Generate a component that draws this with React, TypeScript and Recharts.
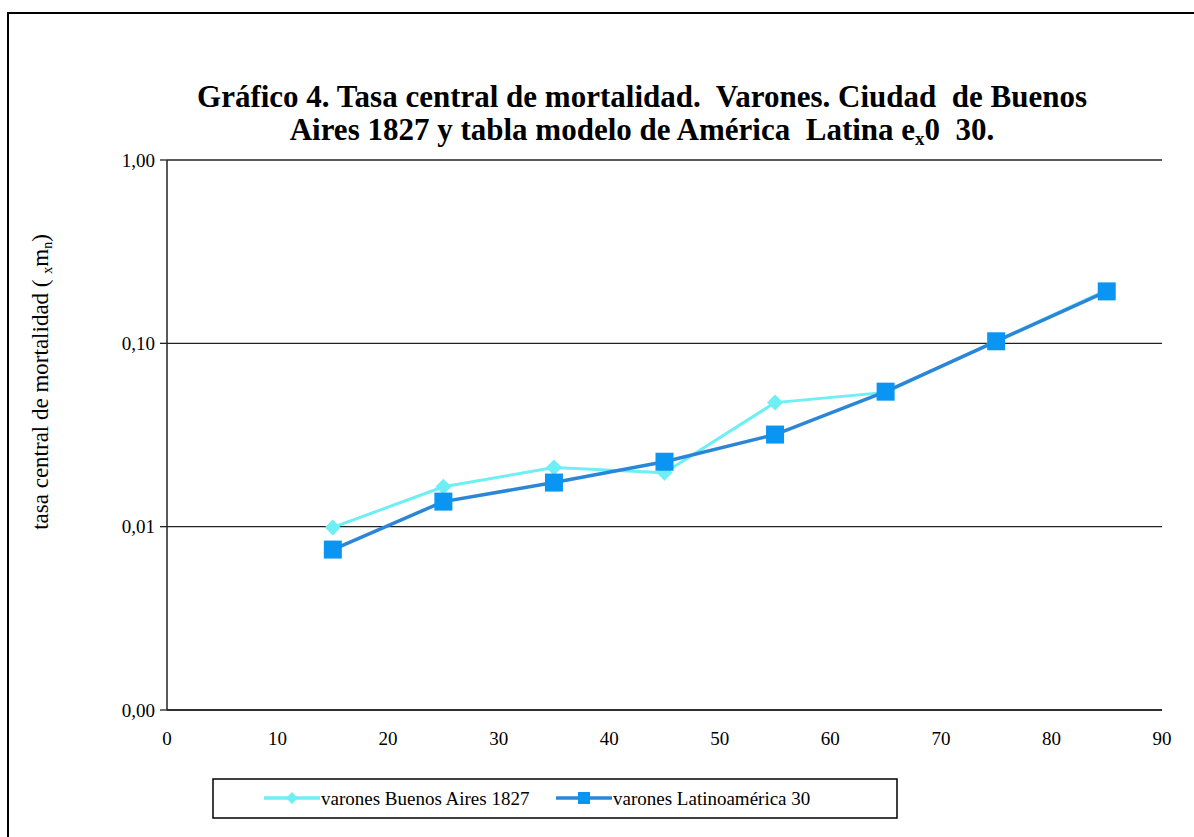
import { LineChart, Line, XAxis, YAxis, CartesianGrid } from "recharts";

const ages = [15, 25, 35, 45, 55, 65, 75, 85];
const buenosAires = [0.0099, 0.0165, 0.021, 0.0197, 0.0475, 0.054, 0.103, 0.195];
const latinoamerica = [0.0075, 0.0137, 0.0174, 0.0226, 0.0318, 0.0545, 0.1026, 0.192];
const xTicks = [0, 10, 20, 30, 40, 50, 60, 70, 80, 90];
const yTicks = [0.001, 0.01, 0.1, 1];
const seriesNames = ["varones Buenos Aires 1827", "varones Latinoamérica 30"];

const data = ages.map((age, i) => ({
  age,
  ba: buenosAires[i],
  la: latinoamerica[i],
}));

const SERIF = "Liberation Serif, Times New Roman, serif";
const BA_COLOR = "#6EEEF5";
const LA_LINE = "#2C86D8";
const LA_MARK = "#0B95F2";

const Diamond = (props: any) => {
  const { cx, cy } = props;
  if (cx == null || cy == null) return null;
  const r = 8;
  return (
    <polygon
      points={`${cx},${cy - r} ${cx + r},${cy} ${cx},${cy + r} ${cx - r},${cy}`}
      fill={BA_COLOR}
    />
  );
};

const Square = (props: any) => {
  const { cx, cy } = props;
  if (cx == null || cy == null) return null;
  const s = 9;
  return <rect x={cx - s} y={cy - s} width={s * 2} height={s * 2} fill={LA_MARK} />;
};

const fmt = (v: number) => v.toFixed(2).replace(".", ",");

// legend entries: where each sample line starts
const legendX = [264, 556];

export default function App() {
  return (
    <div
      style={{
        position: "absolute",
        left: 0,
        top: 0,
        width: 1194,
        height: 837,
        overflow: "hidden",
        background: "#fff",
      }}
    >
      <div style={{ position: "absolute", left: 0, top: 0 }}>
        <LineChart
          width={1194}
          height={837}
          data={data}
          margin={{ top: 160, right: 32, bottom: 97, left: 87 }}
        >
          <CartesianGrid vertical={false} stroke="#222" strokeWidth={1.3} />
          <XAxis
            dataKey="age"
            type="number"
            domain={[0, 90]}
            ticks={xTicks}
            height={30}
            tickLine={false}
            axisLine={{ stroke: "#222", strokeWidth: 1.5 }}
            tickMargin={16}
            tick={{ fill: "#000", fontSize: 19, fontFamily: SERIF }}
          />
          <YAxis
            scale="log"
            domain={[0.001, 1]}
            ticks={yTicks}
            allowDataOverflow
            width={80}
            tickFormatter={fmt}
            tickSize={7}
            tickMargin={5}
            tickLine={{ stroke: "#222", strokeWidth: 1.3 }}
            axisLine={{ stroke: "#222", strokeWidth: 1.5 }}
            tick={{ fill: "#000", fontSize: 19, fontFamily: SERIF }}
          />
          <Line
            dataKey="ba"
            stroke={BA_COLOR}
            strokeWidth={3}
            dot={<Diamond />}
            activeDot={false}
            isAnimationActive={false}
          />
          <Line
            dataKey="la"
            stroke={LA_LINE}
            strokeWidth={3.5}
            dot={<Square />}
            activeDot={false}
            isAnimationActive={false}
          />
        </LineChart>
      </div>

      {/* frame, titles and legend */}
      <svg
        width={1194}
        height={837}
        style={{ position: "absolute", left: 0, top: 0, pointerEvents: "none" }}
      >
        <rect x={8} y={13} width={1230} height={860} fill="none" stroke="#000" strokeWidth={2} />
        <text
          x={642}
          y={107}
          textAnchor="middle"
          fontFamily={SERIF}
          fontWeight="bold"
          fontSize={31}
          fill="#000"
          style={{ fontFamily: SERIF }}
        >
          Gráfico 4. Tasa central de mortalidad.{"\u00a0 "}Varones. Ciudad{"\u00a0 "}de Buenos
        </text>
        <text
          x={642}
          y={140}
          textAnchor="middle"
          fontFamily={SERIF}
          fontWeight="bold"
          fontSize={31}
          fill="#000"
          style={{ fontFamily: SERIF }}
        >
          Aires 1827 y tabla modelo de América{"\u00a0 "}Latina e
          <tspan fontSize={19} dy={5}>x</tspan>
          <tspan dy={-5}>0{"\u00a0 "}30.</tspan>
        </text>
        <text
          transform="translate(48,382) rotate(-90)"
          textAnchor="middle"
          fontFamily={SERIF}
          fontSize={23}
          fill="#000"
          style={{ fontFamily: SERIF }}
        >
          tasa central de mortalidad ({"\u00a0"}
          <tspan fontSize={14} dy={4}>x</tspan>
          <tspan dy={-4}>m</tspan>
          <tspan fontSize={14} dy={4}>n</tspan>
          <tspan dy={-4}>)</tspan>
        </text>

        <rect x={213} y={779} width={684} height={39} fill="#fff" stroke="#000" strokeWidth={1.5} />
        {seriesNames.map((name, i) => {
          const x0 = legendX[i];
          const cy = 798;
          return (
            <g key={name}>
              <line
                x1={x0}
                y1={cy}
                x2={x0 + 56}
                y2={cy}
                stroke={i === 0 ? BA_COLOR : LA_LINE}
                strokeWidth={3.5}
              />
              {i === 0 ? (
                <polygon
                  points={`${x0 + 28},${cy - 6} ${x0 + 34},${cy} ${x0 + 28},${cy + 6} ${x0 + 22},${cy}`}
                  fill={BA_COLOR}
                />
              ) : (
                <rect x={x0 + 22} y={cy - 6} width={12} height={12} fill={LA_MARK} />
              )}
              <text
                x={x0 + 57}
                y={cy + 7}
                fontFamily={SERIF}
                fontSize={19}
                fill="#000"
                style={{ fontFamily: SERIF }}
              >
                {name}
              </text>
            </g>
          );
        })}
      </svg>
    </div>
  );
}
